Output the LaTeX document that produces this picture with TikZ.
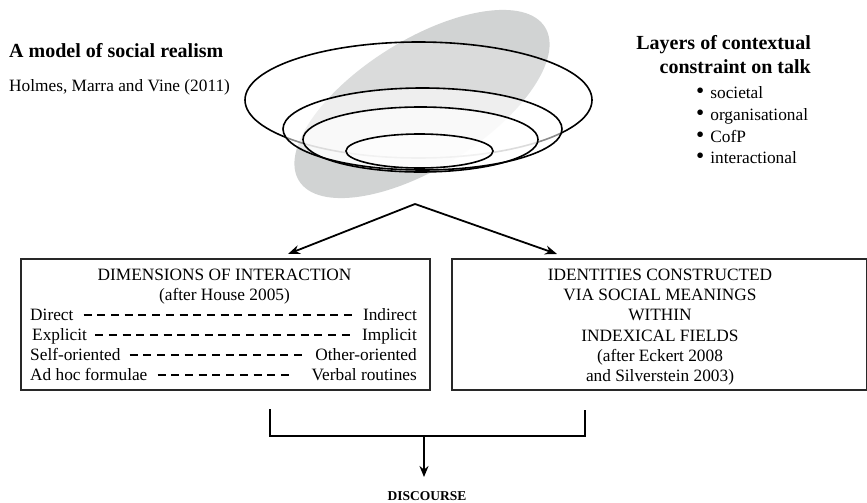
\documentclass[tikz,border=0pt]{standalone}
\usepackage{fontspec}
\setmainfont{Liberation Serif}
\usetikzlibrary{arrows.meta,calc}
\definecolor{greyfill}{RGB}{209,211,211}
\definecolor{boxline}{RGB}{40,40,40}
\newcommand{\bigbul}{\scalebox{1.35}{\textbullet}}
\begin{document}
\begin{tikzpicture}[x=1pt,y=-1pt,
  txt/.style={inner sep=0pt, font=\fontsize{17.3}{20}\selectfont},
  head/.style={inner sep=0pt, font=\fontsize{20}{24}\selectfont\bfseries},
  boxframe/.style={draw=boxline, line width=1.6pt, inner sep=0pt},
  layer/.style={draw=black, line width=1.6pt},
  arrowline/.style={line width=1.8pt, -{Stealth[length=12pt,width=9pt]}},
  dashrow/.style={line width=1.3pt, dash pattern=on 8pt off 5.7pt},
  bracket/.style={line width=2pt}]
\useasboundingbox (0,0) rectangle (867,503);

% --- tilted grey ellipse
\begin{scope}[shift={(422,104)}, rotate=32]
  \fill[fill=greyfill] (0,0) ellipse [x radius=145pt, y radius=64pt];
\end{scope}

% --- layers
\path[fill=white, fill opacity=0.2] (418.5,100) ellipse [x radius=173.5pt, y radius=58pt];
\draw[layer] (418.5,100) ellipse [x radius=173.5pt, y radius=58pt];
\path[fill=white, fill opacity=0.55] (422.5,129) ellipse [x radius=139.5pt, y radius=41pt];
\path[fill=white, fill opacity=0.7] (420.5,139.5) ellipse [x radius=117.5pt, y radius=32.5pt];
\path[fill=white, fill opacity=0.6] (419.5,151) ellipse [x radius=73.5pt, y radius=17pt];
\draw[layer] (422.5,129) ellipse [x radius=139.5pt, y radius=41pt];
\draw[layer] (420.5,139.5) ellipse [x radius=117.5pt, y radius=32.5pt];
\draw[layer] (419.5,151) ellipse [x radius=73.5pt, y radius=17pt];

% --- headings
\node[head, anchor=base west] (title) at (9,58) {A model of social realism};
\node[txt, anchor=base west] (cite) at (9,91) {Holmes, Marra and Vine (2011)};
\node[head, anchor=base east] (lay1) at (811,50) {Layers of contextual};
\node[head, anchor=base east] (lay2) at (811,74) {constraint on talk};
\node[txt, anchor=base west] (b1) at (696,98) {\bigbul\hspace{6pt}societal};
\node[txt, anchor=base west] (b2) at (696,120) {\bigbul\hspace{6pt}organisational};
\node[txt, anchor=base west] (b3) at (696,142) {\bigbul\hspace{6pt}CofP};
\node[txt, anchor=base west] (b4) at (696,163) {\bigbul\hspace{6pt}interactional};

% --- boxes
\node[boxframe, minimum width=409pt, minimum height=131pt, anchor=north west] (dimbox) at (20,258) {};
\node[boxframe, minimum width=414.5pt, minimum height=131pt, anchor=north west] (idbox) at (451,258) {};

% --- arrows from model
\coordinate (apex) at (415,204);
\coordinate (ltip) at (288,254);
\coordinate (rtip) at (557,254);
\draw[arrowline] (apex) -- (ltip);
\draw[arrowline] (apex) -- (rtip);

% --- left box text
\node[txt, anchor=base] (d1) at (224.5,280) {DIMENSIONS OF INTERACTION};
\node[txt, anchor=base] (d2) at (224.5,300) {(after House 2005)};
\node[txt, anchor=base west] (l1) at (30,320) {Direct};
\node[txt, anchor=base east] (r1) at (417,320) {Indirect};
\node[txt, anchor=base west] (l2) at (32,340) {Explicit};
\node[txt, anchor=base east] (r2) at (417,340) {Implicit};
\node[txt, anchor=base west] (l3) at (30,360) {Self-oriented};
\node[txt, anchor=base east] (r3) at (417,360) {Other-oriented};
\node[txt, anchor=base west] (l4) at (30,380) {Ad hoc formulae};
\node[txt, anchor=base east] (r4) at (417,380) {Verbal routines};
\draw[dashrow] ($(l1.base east)+(10,-5)$) -- ($(r1.base west)+(-8,-5)$);
\draw[dashrow] ($(l2.base east)+(8,-5)$) -- ($(r2.base west)+(-10,-5)$);
\draw[dashrow] ($(l3.base east)+(9,-5)$) -- ($(r3.base west)+(-10,-5)$);
\draw[dashrow] ($(l4.base east)+(10,-5)$) -- ($(r4.base west)+(-19,-5)$);

% --- right box text
\node[txt, anchor=base] (i1) at (660,280) {IDENTITIES CONSTRUCTED};
\node[txt, anchor=base] (i2) at (660,300) {VIA SOCIAL MEANINGS};
\node[txt, anchor=base] (i3) at (660,320) {WITHIN};
\node[txt, anchor=base] (i4) at (660,341) {INDEXICAL FIELDS};
\node[txt, anchor=base] (i5) at (660,361) {(after Eckert 2008};
\node[txt, anchor=base] (i6) at (660,381) {and Silverstein 2003)};

% --- bracket and discourse
\coordinate (bl) at (270,409);
\coordinate (blc) at (270,436);
\coordinate (brc) at (585,436);
\coordinate (br) at (585,410);
\coordinate (bm) at (424,436);
\coordinate (dtip) at (424,477);
\draw[bracket] (bl) -- (blc) -- (brc) -- (br);
\draw[line width=2pt, -{Stealth[length=11pt,width=9pt]}] (bm) -- (dtip);
\node[inner sep=0pt, font=\fontsize{13.5}{16}\selectfont\bfseries, anchor=base] (disc) at (427,500) {DISCOURSE};
\end{tikzpicture}
\end{document}
